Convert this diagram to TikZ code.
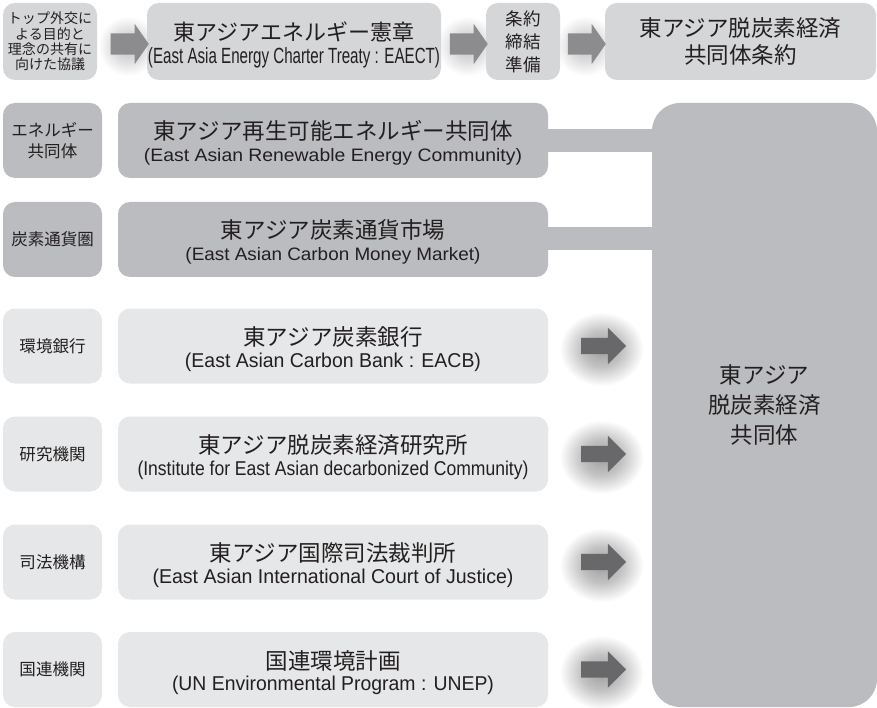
\documentclass[tikz,border=0pt]{standalone}
\usepackage{fontspec}
\usepackage{graphicx}
\setmainfont{Noto Sans CJK JP}
\newfontfamily\latinfont{Liberation Sans}
\usetikzlibrary{shapes.arrows}
\definecolor{topg}{RGB}{213,214,216}
\definecolor{midg}{RGB}{187,188,191}
\definecolor{paleg}{RGB}{230,231,232}
\definecolor{arrowdark}{RGB}{104,104,107}
\definecolor{arrowlight}{RGB}{140,140,143}
\definecolor{txt}{RGB}{35,31,32}
\pgfdeclareradialshading{glowdark}{\pgfpoint{0bp}{0bp}}{color(0bp)=(black!38); color(12bp)=(black!24); color(25bp)=(white); color(50bp)=(white)}
\pgfdeclareradialshading{glowlight}{\pgfpoint{0bp}{0bp}}{color(0bp)=(black!24); color(12bp)=(black!14); color(25bp)=(white); color(50bp)=(white)}
\newcommand\subtxt[3]{\resizebox{#1pt}{\height}{\fontsize{#2}{#2}\selectfont\latinfont (#3)}}
\begin{document}
\begin{tikzpicture}[x=1pt,y=-1pt,
  every node/.style={text=txt},
  boxbase/.style={rounded corners=12pt, inner sep=0pt, outer sep=0pt, draw=none},
  topbox/.style={boxbase, fill=topg, minimum height=77pt},
  darkbox/.style={boxbase, fill=midg, minimum height=75pt},
  palebox/.style={boxbase, fill=paleg, minimum height=75pt},
  labelbox/.style={minimum width=99pt, align=center, font=\fontsize{16.5}{21}\selectfont},
  mainbox/.style={minimum width=430pt},
  titletxt/.style={font=\fontsize{22.5}{27}\selectfont, inner sep=0pt},
  subtitletxt/.style={inner sep=0pt},
  bar/.style={draw=midg, line width=23pt, shorten <=-3pt, shorten >=-6pt},
  rowarrow/.style={single arrow, fill=arrowdark, draw=none, minimum height=45pt, minimum width=36pt, inner sep=8pt, single arrow head extend=10pt, single arrow tip angle=90, outer sep=0pt},
  toparrow/.style={single arrow, fill=arrowlight, draw=none, minimum height=38pt, minimum width=40pt, inner sep=10.5pt, single arrow head extend=9.5pt, single arrow tip angle=110, outer sep=0pt},
  glowd/.style={shading=glowdark},
  glowl/.style={shading=glowlight}
]
\useasboundingbox (0,0) rectangle (877,708);
\fill[white] (0,0) rectangle (877,708);

% arrow positions
\coordinate (pa1) at (126,44);
\coordinate (pa2) at (465,44);
\coordinate (pa3) at (583,44);
\coordinate (pr3) at (599.5,346);
\coordinate (pr4) at (599.5,454);
\coordinate (pr5) at (599.5,562);
\coordinate (pr6) at (599.5,669.5);

% glows
\foreach \p in {pa1,pa2,pa3}{
  \shade[glowl] ([shift={(2,2)}]\p) ellipse [x radius=30pt, y radius=30pt];
}
\foreach \p in {pr3,pr4,pr5,pr6}{
  \shade[glowd] ([shift={(2,3)}]\p) ellipse [x radius=42pt, y radius=37pt];
}

% top row
\node[topbox, minimum width=94pt, align=center, font=\fontsize{14}{15.3}\selectfont] (tl) at (50,41.5) {トップ外交に\\よる目的と\\理念の共有に\\向けた協議};
\node[topbox, minimum width=294pt] (ect) at (294,41.5) {};
\node[topbox, minimum width=74pt, align=center, font=\fontsize{17.5}{23}\selectfont] (prep) at (523,41.5) {条約\\締結\\準備};
\node[topbox, minimum width=271pt, align=center, font=\fontsize{22.5}{27}\selectfont] (treaty) at (740.5,41.5) {東アジア脱炭素経済\\共同体条約};
\node[font=\fontsize{22}{26}\selectfont, inner sep=0pt] (ecttitle) at (294,32) {東アジアエネルギー憲章};
\node[subtitletxt] (ectsub) at (294,58) {\subtxt{292}{22}{East Asia Energy Charter Treaty : EAECT}};

% big box
\node[boxbase, rounded corners=28pt, fill=midg, minimum width=225pt, minimum height=604pt] (big) at (764.5,405) {};
\node[align=center, font=\fontsize{22.5}{30}\selectfont] (bigtext) at (big.center) {東アジア\\脱炭素経済\\共同体};

% row 1
\node[darkbox, labelbox] (l1) at (52.5,140.5) {エネルギー\\共同体};
\node[darkbox, mainbox] (m1) at (333,140.5) {};
\draw[bar] (m1.east) -- (m1.east -| big.west);
\node[titletxt] (t1) at (333,131) {東アジア再生可能エネルギー共同体};
\node[subtitletxt] (s1) at (333,157) {\subtxt{378}{18}{East Asian Renewable Energy Community}};

% row 2
\node[darkbox, labelbox] (l2) at (52.5,239.5) {炭素通貨圏};
\node[darkbox, mainbox] (m2) at (333,239.5) {};
\draw[bar] ([yshift=1]m2.east) -- ([yshift=1]m2.east -| big.west);
\node[titletxt] (t2) at (333,230) {東アジア炭素通貨市場};
\node[subtitletxt] (s2) at (333,256) {\subtxt{295}{18}{East Asian Carbon Money Market}};

% row 3
\node[palebox, labelbox] (l3) at (52.5,346) {環境銀行};
\node[palebox, mainbox] (m3) at (333,346) {};
\node[titletxt] (t3) at (333,337) {東アジア炭素銀行};
\node[subtitletxt] (s3) at (333,362) {\subtxt{296}{20}{East Asian Carbon Bank : EACB}};

% row 4
\node[palebox, labelbox] (l4) at (52.5,454) {研究機関};
\node[palebox, mainbox] (m4) at (333,454) {};
\node[titletxt] (t4) at (333,445) {東アジア脱炭素経済研究所};
\node[subtitletxt] (s4) at (333,470) {\subtxt{391}{20}{Institute for East Asian decarbonized Community}};

% row 5
\node[palebox, labelbox] (l5) at (52.5,562) {司法機構};
\node[palebox, mainbox] (m5) at (333,562) {};
\node[titletxt] (t5) at (333,553) {東アジア国際司法裁判所};
\node[subtitletxt] (s5) at (333,578) {\subtxt{361}{20}{East Asian International Court of Justice}};

% row 6
\node[palebox, labelbox] (l6) at (52.5,669.5) {国連機関};
\node[palebox, mainbox] (m6) at (333,669.5) {};
\node[titletxt] (t6) at (333,660.5) {国連環境計画};
\node[subtitletxt] (s6) at (333,685.5) {\subtxt{322}{20}{UN Environmental Program : UNEP}};

% arrows
\node[toparrow] (a1) at (pa1) {};
\node[toparrow] (a2) at (pa2) {};
\node[toparrow] (a3) at (pa3) {};
\node[rowarrow] (ar3) at (pr3) {};
\node[rowarrow] (ar4) at (pr4) {};
\node[rowarrow] (ar5) at (pr5) {};
\node[rowarrow] (ar6) at (pr6) {};
\end{tikzpicture}
\end{document}
